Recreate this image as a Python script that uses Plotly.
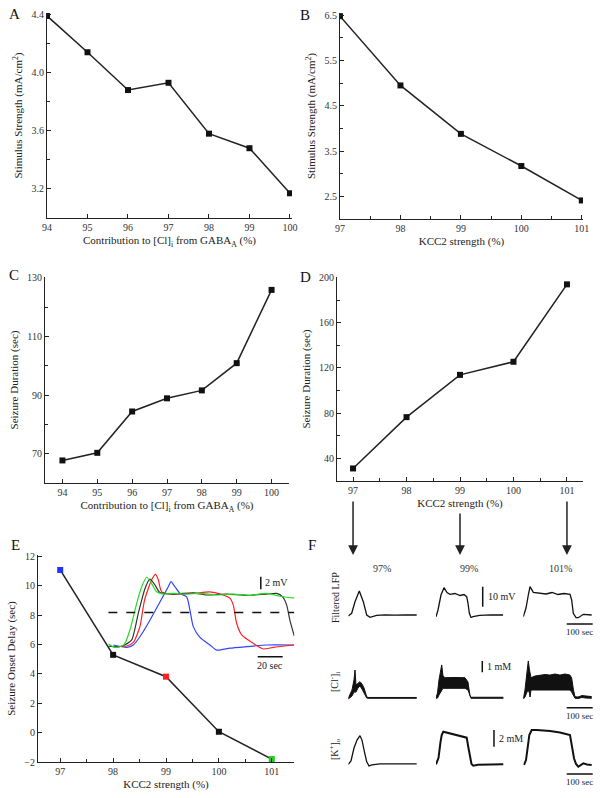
import plotly.graph_objects as go

W, H = 601, 798
FONT = "Liberation Serif"


def px(x):
    return x / W


def py(y):
    return 1 - y / H


# ---------------- data: panels A-E ----------------
a_x = [94, 95, 96, 97, 98, 99, 100]
a_y = [4.39, 4.14, 3.88, 3.93, 3.58, 3.48, 3.17]
b_x = [97, 98, 99, 100, 101]
b_y = [6.48, 4.95, 3.88, 3.17, 2.41]
c_x = [94, 95, 96, 97, 98, 99, 100]
c_y = [67.7, 70.3, 84.4, 88.9, 91.6, 100.9, 125.9]
d_x = [97, 98, 99, 100, 101]
d_y = [31.1, 76.5, 113.9, 125.5, 194.0]
e_x = [97, 98, 99, 100, 101]
e_y = [11.08, 5.30, 3.81, 0.06, -1.80]
e_colors = ["#2233ff", "#111111", "#ff2020", "#111111", "#22cc22"]

# tick labels
a_yticks = [3.2, 3.6, 4.0, 4.4]
a_yminor = [3.4, 3.8, 4.2]
a_xticks = [94, 95, 96, 97, 98, 99, 100]
b_yticks = [2.5, 3.5, 4.5, 5.5, 6.5]
b_yminor = [3.0, 4.0, 5.0, 6.0]
kcc_ticks = [97, 98, 99, 100, 101]
kcc_minor = [97.5, 98.5, 99.5, 100.5]
c_yticks = [70, 90, 110, 130]
c_yminor = [80, 100, 120]
d_yticks = [40, 80, 120, 160, 200]
d_yminor = [60, 100, 140, 180]
e_yticks = [-2, 0, 2, 4, 6, 8, 10, 12]

# inset of E: LFP traces (time in sec, mV)
green_t = [0, 5.3, 10.7, 13.3, 17.3, 22.7, 26.7, 30.7, 34.7, 38.7, 44, 52, 62.7, 73.3, 86.7, 100, 113.3, 126.7, 137.3, 148.8]
green_v = [0.16, -0.37, -0.16, 0.26, 2.37, 6.58, 9.2, 10.7, 9.7, 8.4, 8.05, 8.15, 8.05, 8.15, 7.9, 8.05, 7.84, 8.15, 7.7, 7.4]
black_t = [0, 8, 13, 18.7, 24, 29.3, 33.3, 37.3, 41.3, 52, 68, 78.7, 94.7, 110.7, 126.7, 134.7, 139.5, 142.7, 145.3, 148.8]
black_v = [-0.2, -0.3, 0.0, 0.8, 5.0, 8.9, 10.4, 9.5, 8.3, 8.05, 8.25, 7.9, 8.05, 7.84, 8.05, 8.15, 7.6, 6.3, 3.9, 1.4]
red_t = [4, 14.7, 20, 25.3, 29.0, 34.7, 37.8, 40, 42.7, 52, 68, 81.3, 92, 97.3, 100, 102.7, 106.7, 116, 124, 132, 148.8]
red_v = [-0.26, -0.16, 0.4, 2.9, 7.1, 10.3, 11.15, 10.3, 8.4, 8.05, 8.15, 8.4, 7.9, 7.4, 6.3, 3.4, 1.6, 0.26, -0.63, -0.37, 0]
blue_t = [4, 14.7, 20, 25.3, 33.3, 41.3, 48, 50.2, 53.3, 57.3, 62.7, 65.3, 68, 73.3, 81.3, 86.7, 97.3, 110.7, 126.7, 148.8]
blue_v = [0, -0.37, 0, 1.3, 3.9, 6.8, 9.2, 10.0, 9.2, 8.15, 7.6, 5.5, 2.9, 1.2, 0, -0.8, -0.5, -0.26, 0, 0]
inset_threshold = 5.13
inset_span = [0, 148.8]
inset_vbar = [122, 8.8, 10.8]      # t, v0, v1  (2 mV)
inset_hbar = [119.5, 139.5, -1.84]  # t0, t1, v   (20 sec)

# ---------------- data: panel F traces (sec, mV / mM) ----------------
lfp97_t = [0, 13, 25.8, 42.3, 57.7, 70.8, 83.5, 109, 140, 180, 220, 263]
lfp97_v = [-0.5, 0.85, 6.65, 12.0, 6.65, 0, -1.15, -0.15, 0.1, -0.1, 0.1, 0]
lfp99_t = [0, 7.7, 19.2, 30.8, 42.3, 53.8, 73, 92.3, 107.7, 118, 123, 128, 134.6, 142.3, 168, 210, 258]
lfp99_v = [-0.85, 2.5, 10, 13.65, 11.25, 10.35, 10.75, 9.75, 10.25, 9.15, 6, 1, -1.25, -0.85, -0.15, 0.1, 0]
lfp101_t = [0, 10.4, 20, 25.8, 38.5, 64.2, 87.3, 110.4, 133.5, 156.5, 179.6, 186, 192.3, 202.7, 211.5, 230.8, 263]
lfp101_v = [-0.85, 3.5, 10.5, 14.15, 11.35, 11.1, 10.5, 11.25, 10.25, 10.75, 10.35, 7.5, 0.85, -1.35, -1.35, 0.35, 0]

cl97_t = [0, 6.5, 14.2, 21.9, 25.8, 29.6, 37.3, 45, 52.7, 60.4, 70.8, 75.8, 263]
cl97_hi = [-0.05, 0.33, 0.68, 1.57, 2.45, 1.12, 1.3, 1.42, 1.21, 0.86, 0.09, 0.02, 0.02]
cl97_lo = [-0.12, -0.03, 0.15, 0.5, 0.5, 0.5, 0.86, 1.04, 0.77, 0.42, -0.03, -0.05, -0.05]
cl99_t = [0, 5.8, 11.5, 21.9, 26.9, 34.6, 73, 111.5, 123, 130.8, 134.6, 258.8]
cl99_hi = [0, 0.42, 1.57, 2.9, 1.92, 1.77, 1.79, 1.77, 1.39, 0.15, 0.04, 0.04]
cl99_lo = [-0.07, -0.03, 0.24, 0.68, 0.83, 0.83, 0.83, 0.83, 0.68, 0.02, -0.05, -0.05]
cl101_t = [0, 6.5, 14.2, 19.2, 23.8, 25.8, 29.6, 45, 64.2, 83.5, 102.7, 121.9, 141.1, 160.4, 179.6, 186, 193, 198.8, 210.4, 225.8, 241.2, 263]
cl101_hi = [-0.05, 0.68, 2.27, 3.25, 2.45, 2.0, 1.77, 1.92, 2.0, 2.05, 2.0, 2.1, 2.0, 2.1, 2.0, 1.74, 0.68, 0.09, 0.06, 0.19, 0.15, 0.1]
cl101_lo = [-0.12, 0.06, 0.5, 0.68, 0.4, 0.06, 0.68, 0.68, 0.68, 0.68, 0.68, 0.68, 0.68, 0.68, 0.68, 0.5, 0.24, -0.05, -0.07, 0.02, -0.03, -0.05]

k97_t = [0, 10.4, 21.9, 33.5, 45, 52.7, 62.3, 70.8, 79.6, 91.2, 121.9, 263]
k97_v = [0, 0.4, 1.95, 2.9, 3.43, 2.9, 1.47, 0.31, -0.2, -0.08, 0.04, 0.04]
k99_t = [0, 9.6, 17.3, 21.9, 28.1, 53.8, 84.6, 118, 124.9, 130.8, 136.5, 143.5, 161.5, 258.8]
k99_v = [0, 0.75, 2.67, 3.5, 3.9, 3.71, 3.5, 3.19, 1.95, 0.72, 0.04, -0.17, -0.05, 0]
k101_t = [2.7, 10.4, 18.1, 23.1, 32.3, 51.5, 102.7, 141.1, 179.6, 187.3, 195, 202.7, 211.5, 230.8, 245, 263]
k101_v = [-0.08, 0.51, 2.31, 3.51, 4.11, 4.11, 3.99, 3.81, 3.51, 2.31, 0.72, 0.04, -0.29, 0.12, -0.02, -0.08]

f_col_labels = ["97%", "99%", "101%"]
f_row_labels = ["Filtered LFP", "[Cl<sup>-</sup>]<sub>i</sub>", "[K<sup>+</sup>]<sub>o</sub>"]
f_vbars = [[179.6, 4.15, 14.15, "10 mV"], [178, 2.25, 3.25, "1 mM"], [223, 2.1, 4.1, "2 mM"]]
f_hbar = [167, 267]
f_hbar_y = [-4.5, -0.885, -1.16]
arrow_targets = [97, 99, 101]

# ---------------- figure ----------------
fig = go.Figure()
layout = dict(template="none", width=W, height=H, margin=dict(l=0, r=0, t=0, b=0, pad=0),
              paper_bgcolor="white", plot_bgcolor="rgba(0,0,0,0)", showlegend=False,
              font=dict(family=FONT, size=11, color="#222"))

TICKFONT = dict(family=FONT, size=10, color="#333")
TITLEFONT = dict(family=FONT, size=11, color="#222")


def axis(domain, rng, anchor, tickvals, minor=None, title="", standoff=4):
    d = dict(domain=domain, range=rng, anchor=anchor, showline=True, linecolor="#222",
             linewidth=1, ticks="inside", ticklen=4, tickcolor="#222", tickwidth=1,
             showgrid=False, zeroline=False, tickfont=TICKFONT, tickvals=tickvals,
             automargin=False, title=dict(text=title, font=TITLEFONT, standoff=standoff))
    if minor:
        d["minor"] = dict(tickmode="array", tickvals=minor, ticks="inside", ticklen=3,
                          tickcolor="#222", showgrid=False)
    return d


def panel(n, xd, yd, xr, yr, xt, yt, xminor, yminor, xtitle, ytitle, yfmt):
    layout[f"xaxis{n}"] = axis([px(xd[0]), px(xd[1])], xr, f"y{n}", xt, xminor, xtitle)
    ya = axis([py(yd[1]), py(yd[0])], yr, f"x{n}", yt, yminor, ytitle, standoff=6)
    ya["tickformat"] = yfmt
    layout[f"yaxis{n}"] = ya


panel(1, (47, 292), (13, 218), [94, 100.05], [3.0, 4.41], a_xticks, a_yticks, None, a_yminor,
      "Contribution to [Cl]<sub>i</sub> from GABA<sub>A</sub> (%)", "Stimulus Strength (mA/cm<sup>2</sup>)", ".1f")
panel(2, (340, 583), (13, 219), [97, 101.02], [2.0, 6.55], kcc_ticks, b_yticks, kcc_minor, b_yminor,
      "KCC2 strength (%)", "Stimulus Strength (mA/cm<sup>2</sup>)", ".1f")
panel(3, (45, 289), (277, 483), [93.5, 100.5], [60, 130.3], a_xticks, c_yticks, None, c_yminor,
      "Contribution to [Cl]<sub>i</sub> from GABA<sub>A</sub> (%)", "Seizure Duration (sec)", "d")
panel(4, (337, 583), (277, 481), [96.7, 101.3], [20, 200.5], kcc_ticks, d_yticks, kcc_minor, d_yminor,
      "KCC2 strength (%)", "Seizure Duration (sec)", "d")
panel(5, (38, 294), (555, 762), [96.58, 101.42], [-2, 12.1], kcc_ticks, e_yticks, kcc_minor, None,
      "KCC2 strength (%)", "Seizure Onset Delay (sec)", "d")

LINE = dict(color="#222", width=1.5)
MARK = dict(symbol="square", size=6, color="#111")
for n, xs, ys in [(1, a_x, a_y), (2, b_x, b_y), (3, c_x, c_y), (4, d_x, d_y)]:
    fig.add_trace(go.Scatter(x=xs, y=ys, mode="lines+markers", line=LINE, marker=MARK,
                             xaxis=f"x{n}", yaxis=f"y{n}", hoverinfo="skip"))
fig.add_trace(go.Scatter(x=e_x, y=e_y, mode="lines+markers", line=LINE,
                         marker=dict(symbol="square", size=6, color=e_colors),
                         xaxis="x5", yaxis="y5", hoverinfo="skip"))

# hidden axes helper
def hidden(n, xd, yd, xr, yr):
    layout[f"xaxis{n}"] = dict(domain=[px(xd[0]), px(xd[1])], range=xr, anchor=f"y{n}", visible=False)
    layout[f"yaxis{n}"] = dict(domain=[py(yd[1]), py(yd[0])], range=yr, anchor=f"x{n}", visible=False)


def note(**kw):
    kw.setdefault("showarrow", False)
    kw.setdefault("xanchor", "center")
    kw.setdefault("yanchor", "middle")
    return kw


# inset in E: 0.8 s/px, 6.33 px/mV, baseline at y=645
i_x0, i_x1, i_base, i_ppmv, i_spp = 108.3, 294.3, 645, 6.33, 0.8
i_top, i_bot = 562, 668
hidden(6, (i_x0, i_x1), (i_top, i_bot), [0, (i_x1 - i_x0) * i_spp],
       [-(i_bot - i_base) / i_ppmv, (i_base - i_top) / i_ppmv])
for tt, vv, col in [(blue_t, blue_v, "#3344ff"), (red_t, red_v, "#ff2020"),
                    (black_t, black_v, "#333333"), (green_t, green_v, "#22dd22")]:
    fig.add_trace(go.Scatter(x=tt, y=vv, mode="lines", line=dict(color=col, width=1.2, shape="spline", smoothing=0.6),
                             xaxis="x6", yaxis="y6", hoverinfo="skip"))
fig.add_trace(go.Scatter(x=inset_span, y=[inset_threshold, inset_threshold], mode="lines",
                         line=dict(color="#111", width=1.5, dash="dash"), xaxis="x6", yaxis="y6", hoverinfo="skip"))

shapes = []
annotations = []
SMALL = dict(family=FONT, size=10, color="#222")
shapes.append(dict(type="line", xref="x6", yref="y6", x0=inset_vbar[0], x1=inset_vbar[0],
                   y0=inset_vbar[1], y1=inset_vbar[2], line=dict(color="#111", width=1.5)))
annotations.append(note(xref="x6", yref="y6", x=inset_vbar[0] + 1.5, y=(inset_vbar[1] + inset_vbar[2]) / 2,
                        text="2 mV", xanchor="left", font=SMALL))
shapes.append(dict(type="line", xref="x6", yref="y6", x0=inset_hbar[0], x1=inset_hbar[1],
                   y0=inset_hbar[2], y1=inset_hbar[2], line=dict(color="#111", width=1.5)))
annotations.append(note(xref="x6", yref="y6", x=(inset_hbar[0] + inset_hbar[1]) / 2, y=inset_hbar[2],
                        text="20 sec", yanchor="top", yshift=-1, font=SMALL))

# ---------------- panel F ----------------
f_spp = 100 / 26.0           # sec per px
f_cols = [348.3, 436, 523.3]
f_w = 280 / f_spp
f_rows = [  # (top, bottom, baseline, px per unit)
    (578, 628, 615, 2.0),
    (655, 711, 697.7, 11.3),
    (725, 777, 764.3, 8.35),
]
lfp = [(lfp97_t, lfp97_v), (lfp99_t, lfp99_v), (lfp101_t, lfp101_v)]
cl = [(cl97_t, cl97_lo, cl97_hi), (cl99_t, cl99_lo, cl99_hi), (cl101_t, cl101_lo, cl101_hi)]
kk = [(k97_t, k97_v), (k99_t, k99_v), (k101_t, k101_v)]
n = 7
FL = dict(color="#111", width=1.3)
for r, (top, bot, base, ppu) in enumerate(f_rows):
    for c, x0 in enumerate(f_cols):
        hidden(n, (x0, x0 + f_w), (top, bot), [0, 280], [-(bot - base) / ppu, (base - top) / ppu])
        xa, ya = f"x{n}", f"y{n}"
        if r == 0:
            fig.add_trace(go.Scatter(x=lfp[c][0], y=lfp[c][1], mode="lines", line=FL, xaxis=xa, yaxis=ya, hoverinfo="skip"))
        elif r == 1:
            fig.add_trace(go.Scatter(x=cl[c][0], y=cl[c][1], mode="lines", line=dict(color="#111", width=1),
                                     xaxis=xa, yaxis=ya, hoverinfo="skip"))
            fig.add_trace(go.Scatter(x=cl[c][0], y=cl[c][2], mode="lines", line=dict(color="#111", width=1),
                                     fill="tonexty", fillcolor="#111", xaxis=xa, yaxis=ya, hoverinfo="skip"))
        else:
            w = 1.3 if c == 0 else 2.0
            fig.add_trace(go.Scatter(x=kk[c][0], y=kk[c][1], mode="lines", line=dict(color="#111", width=w),
                                     xaxis=xa, yaxis=ya, hoverinfo="skip"))
        if c == 1:
            vb = f_vbars[r]
            shapes.append(dict(type="line", xref=xa, yref=ya, x0=vb[0], x1=vb[0], y0=vb[1], y1=vb[2],
                               line=dict(color="#111", width=1.5)))
            annotations.append(note(xref=xa, yref=ya, x=vb[0], y=(vb[1] + vb[2]) / 2, text=vb[3],
                                    xanchor="left", xshift=3, font=SMALL))
        if c == 2:
            shapes.append(dict(type="line", xref=xa, yref=ya, x0=f_hbar[0], x1=f_hbar[1],
                               y0=f_hbar_y[r], y1=f_hbar_y[r], line=dict(color="#111", width=1.5)))
            annotations.append(note(xref=xa, yref=ya, x=(f_hbar[0] + f_hbar[1]) / 2, y=f_hbar_y[r],
                                    text="100 sec", yanchor="top", yshift=-1,
                                    font=dict(family=FONT, size=9, color="#222")))
        n += 1

# row / column labels
for lab, yy in zip(f_row_labels, [597, 682, 749]):
    annotations.append(note(xref="paper", yref="paper", x=px(335), y=py(yy), text=lab, textangle=-90,
                            font=SMALL))
for lab, xx in zip(f_col_labels, [382, 469, 560]):
    annotations.append(note(xref="paper", yref="paper", x=px(xx), y=py(568), text=lab,
                            font=dict(family=FONT, size=10, color="#333")))

# arrows from D ticks down to F
for val, tail in zip(arrow_targets, [500, 512, 500]):
    annotations.append(dict(xref="x4", yref="paper", x=val, y=py(555), text="", showarrow=True,
                            ax=0, ay=-(555 - tail), arrowhead=2, arrowsize=1.3, arrowwidth=1.5,
                            arrowcolor="#222"))

# panel letters
for lab, xx, yy in [("A", 14, 14), ("B", 305, 15), ("C", 14, 275), ("D", 305, 277), ("E", 15, 545), ("F", 312, 545)]:
    annotations.append(note(xref="paper", yref="paper", x=px(xx), y=py(yy), text=lab,
                            font=dict(family=FONT, size=15, color="#111")))

layout["shapes"] = shapes
layout["annotations"] = annotations
fig.update_layout(**layout)
fig.write_html("out.html", config={"displayModeBar": False},
               post_script="document.body.style.margin='0px';document.body.style.overflow='hidden';")
